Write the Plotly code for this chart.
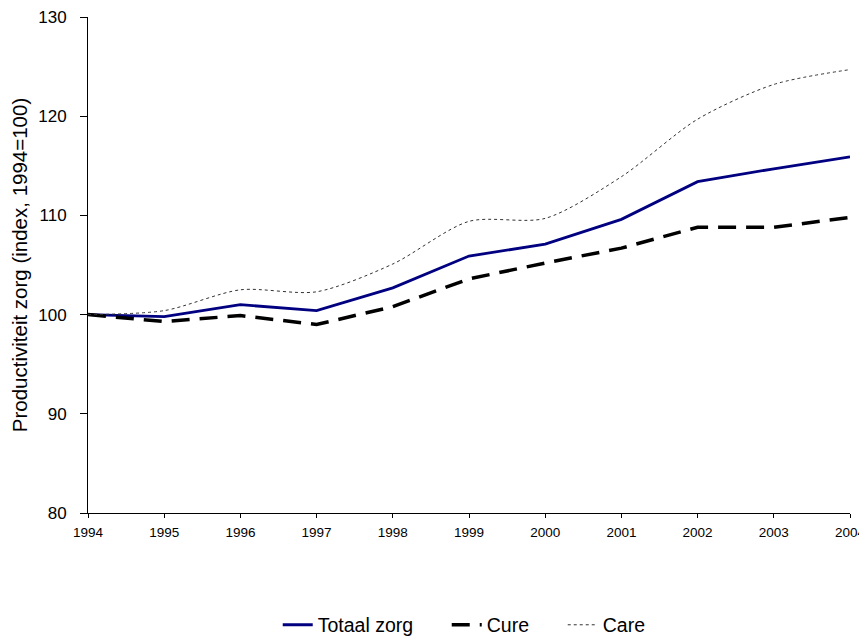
import plotly.graph_objects as go

years = ["1994", "1995", "1996", "1997", "1998", "1999", "2000", "2001", "2002", "2003", "2004"]
totaal_zorg = [100.0, 99.8, 101.0, 100.4, 102.7, 105.9, 107.1, 109.6, 113.4, 114.7, 115.9]
cure = [100.0, 99.3, 99.9, 99.0, 100.8, 103.6, 105.2, 106.7, 108.8, 108.8, 109.8]
care = [100.0, 100.4, 102.5, 102.3, 105.1, 109.4, 109.7, 113.9, 119.7, 123.2, 124.7]
y_ticks = [80, 90, 100, 110, 120, 130]

fig = go.Figure()
fig.add_trace(go.Scatter(x=years, y=totaal_zorg, mode="lines", name="Totaal zorg",
                         legendwidth=124,
                         line=dict(color="#000080", width=2.8)))
fig.add_trace(go.Scatter(x=years, y=cure, mode="lines", name="Cure",
                         legendwidth=71,
                         line=dict(color="black", width=3.5, dash="18px,10px")))
fig.add_trace(go.Scatter(x=years, y=care, mode="lines", name="Care",
                         line=dict(color="#333333", width=1, dash="3px,3px", shape="spline", smoothing=0.8)))

# the page body has an 8px default margin; size the figure so it ends at the window edge
fig.update_layout(
    width=859, height=633,
    margin=dict(l=80, r=17, t=9, b=128, autoexpand=False),
    paper_bgcolor="white", plot_bgcolor="white",
    font=dict(family="Liberation Sans, Arial, sans-serif", color="black"),
    showlegend=True,
    legend=dict(orientation="h", x=0.249, xanchor="left", y=-0.226, yanchor="middle",
                font=dict(size=19.5), traceorder="normal"),
    xaxis=dict(type="category", range=[0, 10], showgrid=False, zeroline=False,
               automargin=False, ticklabeloverflow="allow",
               showline=True, linecolor="black", linewidth=1,
               ticks="outside", ticklen=4, tickcolor="black",
               ticklabelstandoff=3,
               tickfont=dict(size=13.5), tickangle=0),
    yaxis=dict(range=[80, 130], tickvals=y_ticks, showgrid=False, zeroline=False,
               automargin=False, ticklabeloverflow="allow",
               showline=True, linecolor="black", linewidth=1,
               ticks="outside", ticklen=7, tickcolor="black",
               ticklabelstandoff=10,
               tickfont=dict(size=17),
               title=dict(text="Productiviteit zorg (index, 1994=100)", font=dict(size=20.5), standoff=6)),
)

fig.write_html("out.html")
